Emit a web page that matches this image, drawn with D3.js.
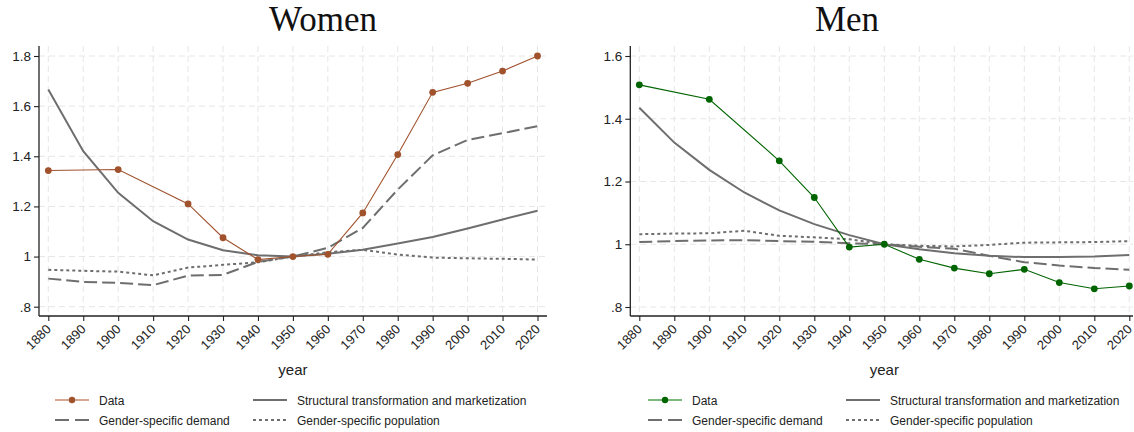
<!DOCTYPE html>
<html>
<head>
<meta charset="utf-8">
<script src="https://cdn.jsdelivr.net/npm/d3@7/dist/d3.min.js"></script>
<style>
  html, body { margin: 0; padding: 0; background: #fff; }
  svg { display: block; }
</style>
</head>
<body>
<svg id="chart" width="1134" height="432"></svg>
<script>
// ---------------- DATA ----------------
const years = [1880,1890,1900,1910,1920,1930,1940,1950,1960,1970,1980,1990,2000,2010,2020];
const dataYears = [1880,1900,1920,1930,1940,1950,1960,1970,1980,1990,2000,2010,2020];

// Women
const womenData       = [1.343,1.347,1.210,1.075,0.988,1.000,1.009,1.174,1.407,1.655,1.691,1.740,1.800];
const womenStructural = [1.666,1.420,1.254,1.141,1.068,1.025,1.005,1.000,1.011,1.027,1.052,1.078,1.112,1.148,1.183];
const womenDemand     = [0.912,0.899,0.895,0.886,0.924,0.927,0.979,1.000,1.035,1.114,1.267,1.404,1.465,1.492,1.520];
const womenPopulation = [0.947,0.943,0.940,0.925,0.956,0.967,0.977,1.000,1.017,1.027,1.008,0.996,0.993,0.991,0.988];

// Men
const menData       = [1.508,1.462,1.266,1.149,0.991,1.000,0.952,0.924,0.906,0.920,0.878,0.858,0.867];
const menStructural = [1.435,1.324,1.237,1.165,1.108,1.064,1.029,1.000,0.984,0.971,0.963,0.959,0.959,0.961,0.966];
const menDemand     = [1.007,1.010,1.012,1.013,1.010,1.008,1.003,1.000,0.992,0.986,0.963,0.943,0.932,0.924,0.919];
const menPopulation = [1.032,1.034,1.035,1.043,1.027,1.022,1.016,1.000,0.995,0.993,0.998,1.005,1.006,1.007,1.010];

const xTicks = years;
const womenYTicks = [0.8,1.0,1.2,1.4,1.6,1.8];
const menYTicks = [0.8,1.0,1.2,1.4,1.6];

const panelTitles = ["Women","Men"];
const xAxisTitle = "year";
const legendLabels = ["Data","Structural transformation and marketization","Gender-specific demand","Gender-specific population"];

// ---------------- DRAW ----------------
const svg = d3.select("#chart");
const GRAY = "#6e6e6e";
const GRID = "#e6e6e6";
const DASH_LONG = "13,5";
const DASH_SHORT = "3,3";
const fmt = d => { const s = d3.format("~g")(d); return s.replace(/^0\./, "."); };

function panel(cfg) {
  const g = svg.append("g");
  const x = d3.scaleLinear().domain([1880, 2020]).range(cfg.xr);
  const y = d3.scaleLinear().domain(cfg.yd).range(cfg.yr);
  const top = cfg.top, bottom = cfg.bottom, left = cfg.axisX, right = cfg.right;

  // grid
  g.append("g").selectAll("line.v").data(xTicks).join("line")
    .attr("x1", d => x(d)).attr("x2", d => x(d))
    .attr("y1", top).attr("y2", bottom)
    .attr("stroke", GRID).attr("stroke-width", 1).attr("stroke-dasharray", "6,4");
  g.append("g").selectAll("line.h").data(cfg.yTicks).join("line")
    .attr("x1", left).attr("x2", right)
    .attr("y1", d => y(d)).attr("y2", d => y(d))
    .attr("stroke", GRID).attr("stroke-width", 1).attr("stroke-dasharray", "6,4");

  // axes
  const ya = g.append("g").attr("transform", `translate(${left},0)`)
    .call(d3.axisLeft(y).tickValues(cfg.yTicks).tickFormat(fmt).tickSize(5).tickPadding(3));
  ya.select(".domain").remove();
  const xa = g.append("g").attr("transform", `translate(0,${bottom})`)
    .call(d3.axisBottom(x).tickValues(xTicks).tickFormat(d3.format("d")).tickSize(5));
  xa.select(".domain").remove();
  [ya, xa].forEach(a => {
    a.selectAll(".tick line").attr("stroke", "#222").attr("stroke-width", 1.1);
    a.selectAll("text").attr("font-family", "'Liberation Sans', Arial, sans-serif")
      .attr("font-size", 13.5).attr("fill", "#222");
  });
  xa.selectAll("text")
    .attr("font-size", 13)
    .attr("text-anchor", "end")
    .attr("transform", "translate(-5,6) rotate(-45)")
    .attr("dy", "0.25em").attr("dx", "0");

  g.append("line").attr("x1", left).attr("x2", left).attr("y1", top).attr("y2", bottom)
    .attr("stroke", "#222").attr("stroke-width", 1.3);
  g.append("line").attr("x1", left).attr("x2", right).attr("y1", bottom).attr("y2", bottom)
    .attr("stroke", "#222").attr("stroke-width", 1.3);

  // lines
  const line = d3.line().x(d => x(d[0])).y(d => y(d[1]));
  const series = [
    { v: cfg.population, dash: DASH_SHORT },
    { v: cfg.demand, dash: DASH_LONG },
    { v: cfg.structural, dash: null }
  ];
  series.forEach(s => {
    g.append("path").datum(d3.zip(years, s.v)).attr("d", line)
      .attr("fill", "none").attr("stroke", GRAY).attr("stroke-width", 2)
      .attr("stroke-dasharray", s.dash);
  });
  const dd = d3.zip(dataYears, cfg.data);
  g.append("path").datum(dd).attr("d", line)
    .attr("fill", "none").attr("stroke", cfg.color).attr("stroke-width", 1.1);
  g.append("g").selectAll("circle").data(dd).join("circle")
    .attr("cx", d => x(d[0])).attr("cy", d => y(d[1])).attr("r", 3.4)
    .attr("fill", cfg.color);

  // title
  g.append("text").attr("x", cfg.titleX).attr("y", 31).attr("text-anchor", "middle")
    .attr("font-family", "'Liberation Serif', 'DejaVu Serif', serif").attr("font-size", 35)
    .attr("fill", "#111").text(cfg.title);

  // x axis title
  g.append("text").attr("x", (cfg.xr[0] + cfg.xr[1]) / 2 ).attr("y", 375).attr("text-anchor", "middle")
    .attr("font-family", "'Liberation Sans', Arial, sans-serif").attr("font-size", 15)
    .attr("fill", "#222").text(xAxisTitle);

  // legend
  const lf = "'Liberation Sans', Arial, sans-serif";
  const L = cfg.legX, R = cfg.legX + 198, sw = 34;
  const rows = [400, 420];
  const items = [
    { x: L, y: rows[0], label: legendLabels[0], kind: "data" },
    { x: R, y: rows[0], label: legendLabels[1], kind: "solid" },
    { x: L, y: rows[1], label: legendLabels[2], kind: "long" },
    { x: R, y: rows[1], label: legendLabels[3], kind: "short" }
  ];
  items.forEach(it => {
    if (it.kind === "data") {
      g.append("line").attr("x1", it.x).attr("x2", it.x + sw).attr("y1", it.y).attr("y2", it.y)
        .attr("stroke", cfg.legColor).attr("stroke-width", 1.6);
      g.append("circle").attr("cx", it.x + sw / 2).attr("cy", it.y).attr("r", 3.2).attr("fill", cfg.color);
    } else {
      g.append("line").attr("x1", it.x).attr("x2", it.x + sw).attr("y1", it.y).attr("y2", it.y)
        .attr("stroke", GRAY).attr("stroke-width", 2)
        .attr("stroke-dasharray", it.kind === "long" ? "14,6" : it.kind === "short" ? "3,3" : null);
    }
    g.append("text").attr("x", it.x + sw + 10).attr("y", it.y + 4.5)
      .attr("font-family", lf).attr("font-size", 12).attr("fill", "#222").text(it.label);
  });
}

panel({
  title: panelTitles[0], titleX: 323,
  xr: [48.3, 537.5], yd: [0.8, 1.8], yr: [306.7, 56], yTicks: womenYTicks,
  axisX: 39, top: 46, bottom: 316, right: 547,
  data: womenData, structural: womenStructural, demand: womenDemand, population: womenPopulation,
  color: "#a0522d", legColor: "#c98b6e", legX: 55
});
panel({
  title: panelTitles[1], titleX: 847,
  xr: [639.3, 1129.3], yd: [0.8, 1.6], yr: [307, 56], yTicks: menYTicks,
  axisX: 630.3, top: 46, bottom: 316, right: 1133,
  data: menData, structural: menStructural, demand: menDemand, population: menPopulation,
  color: "#006400", legColor: "#4fa04f", legX: 648
});
</script>
</body>
</html>
